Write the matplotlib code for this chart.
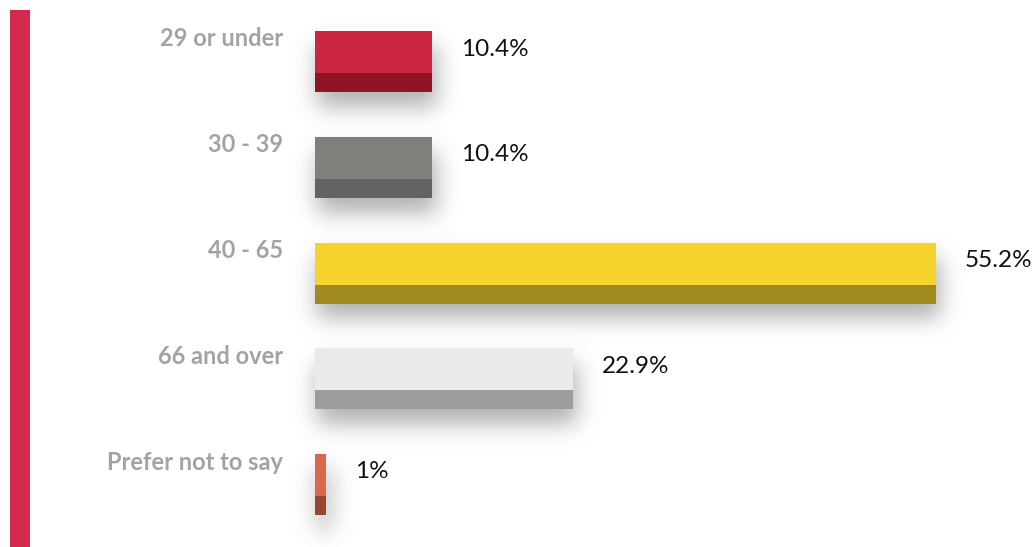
import matplotlib
matplotlib.use("Agg")
import matplotlib.pyplot as plt
import numpy as np
from matplotlib.patches import Rectangle

# ── 資料 ─────────────────────────────────────────────
CATEGORIES = ["29 or under", "30 - 39", "40 - 65", "66 and over", "Prefer not to say"]
VALUES = [10.4, 10.4, 55.2, 22.9, 1.0]
VALUE_LABELS = ["10.4%", "10.4%", "55.2%", "22.9%", "1%"]

TOP_COLORS = ["#cc2540", "#7f7f7c", "#f5d22c", "#e9eaea", "#d9694c"]
FRONT_COLORS = ["#8e1426", "#626463", "#a08a20", "#9c9e9d", "#9a4530"]

W, H, DPI = 1036, 547, 100
PX_X = 11.25      # px per %
PX_Y = 105.75     # px per category
X0_PX = 315       # bar origin
Y0_PX = 61.5      # first bar center

BAR_H = 61 / PX_Y
TOP_H = 42 / PX_Y

fig = plt.figure(figsize=(W / DPI, H / DPI), dpi=DPI)
ax = fig.add_axes([0, 0, 1, 1])
xlim = (-X0_PX / PX_X, (W - X0_PX) / PX_X)
ylim = ((H - Y0_PX) / PX_Y, -Y0_PX / PX_Y)
ax.set_xlim(*xlim)
ax.set_ylim(*ylim)
ax.axis("off")

# ── 陰影：以高斯模糊遮罩做柔和投影 ───────────────────
gx = np.linspace(xlim[0], xlim[1], W)
gy = np.linspace(ylim[1], ylim[0], H)   # row 0 = 畫面頂端
XX, YY = np.meshgrid(gx, gy)
mask = np.zeros((H, W))
off = 15 / PX_Y
for i, v in enumerate(VALUES):
    top = i - BAR_H / 2 + off
    inside = (XX >= 0.2) & (XX <= v + 0.4) & (YY >= top) & (YY <= top + BAR_H)
    mask[inside] = 1.0


def blur(a, sigma):
    r = int(sigma * 3)
    k = np.exp(-0.5 * (np.arange(-r, r + 1) / sigma) ** 2)
    k /= k.sum()
    a = np.apply_along_axis(lambda m: np.convolve(m, k, mode="same"), 1, a)
    a = np.apply_along_axis(lambda m: np.convolve(m, k, mode="same"), 0, a)
    return a


shadow = blur(mask, 11)
rgba = np.zeros((H, W, 4))
rgba[..., :3] = 0.45
rgba[..., 3] = shadow * 0.55
ax.imshow(rgba, extent=(xlim[0], xlim[1], ylim[0], ylim[1]), origin="upper",
          aspect="auto", zorder=1, interpolation="bilinear")

# ── 立體長條：頂面 + 正面 ────────────────────────────
for i, v in enumerate(VALUES):
    top = i - BAR_H / 2
    ax.add_patch(Rectangle((0, top), v, TOP_H, facecolor=TOP_COLORS[i],
                           edgecolor="none", zorder=3))
    ax.add_patch(Rectangle((0, top + TOP_H), v, BAR_H - TOP_H,
                           facecolor=FRONT_COLORS[i], edgecolor="none", zorder=3))

    ax.text(-32 / PX_X, top + 8 / PX_Y, CATEGORIES[i], ha="right", va="center",
            fontsize=17, fontweight="bold", color="#a3a3a3", family="Lato", zorder=4)
    ax.text(v + 29 / PX_X, top + 18 / PX_Y, VALUE_LABELS[i], ha="left", va="center",
            fontsize=17.5, color="#111111", family="Lato", zorder=4)

# 左側紅色裝飾條
fig.patches.append(Rectangle((10 / W, 0), 20 / W, (H - 10) / H,
                             transform=fig.transFigure, facecolor="#d42a4b",
                             edgecolor="none", zorder=0))

fig.savefig("out.png", dpi=DPI)
